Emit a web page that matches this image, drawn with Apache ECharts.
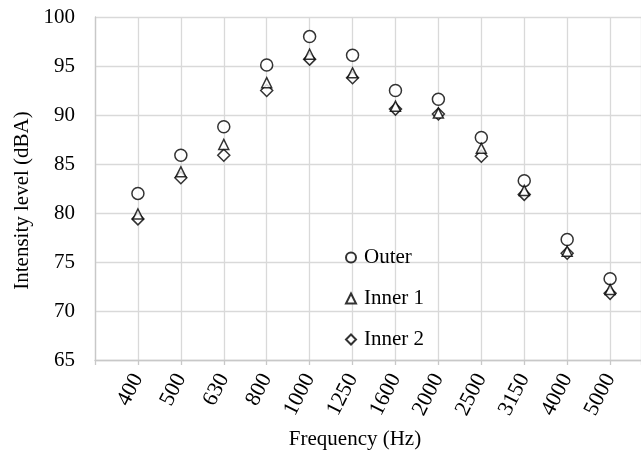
<!DOCTYPE html>
<html>
<head>
<meta charset="utf-8">
<script src="https://cdn.jsdelivr.net/npm/echarts@6/dist/echarts.min.js"></script>
<style>
  html, body { margin: 0; padding: 0; background: #fff; }
  #chart { width: 641px; height: 452px; }
</style>
</head>
<body>
<div id="chart"></div>
<script>
const categories = ['400', '500', '630', '800', '1000', '1250', '1600', '2000', '2500', '3150', '4000', '5000'];
const outer  = [82.0, 85.9, 88.8, 95.1, 98.0, 96.1, 92.5, 91.6, 87.7, 83.3, 77.3, 73.3];
const inner1 = [79.9, 84.2, 87.0, 93.3, 96.2, 94.3, 90.9, 90.2, 86.6, 82.3, 76.1, 72.2];
const inner2 = [79.4, 83.6, 85.9, 92.5, 95.7, 93.8, 90.6, 90.1, 85.8, 81.9, 75.9, 71.8];
const yTicks = [65, 70, 75, 80, 85, 90, 95, 100];

const FONT = '"Liberation Serif", "Times New Roman", serif';
const toPoints = arr => arr.map((v, i) => [i + 1, v]);

const chart = echarts.init(document.getElementById('chart'), null, { renderer: 'canvas' });
const markerStyle = { color: '#ffffff', borderColor: '#000000', borderWidth: 1.5 };

chart.setOption({
  animation: false,
  backgroundColor: '#ffffff',
  textStyle: { fontFamily: FONT, color: '#000' },
  grid: { left: 95, right: 0, top: 17, bottom: 92, containLabel: false, outerBoundsMode: 'none' },
  legend: {
    orient: 'vertical',
    left: 340,
    top: 242,
    itemGap: 20,
    itemWidth: 10,
    itemHeight: 10,
    textStyle: { fontFamily: FONT, fontSize: 21, color: '#000', padding: [0, 0, 0, 3] },
    data: ['Outer', 'Inner 1', 'Inner 2']
  },
  xAxis: {
    type: 'value',
    min: 0,
    max: 12.72,
    interval: 1,
    name: 'Frequency (Hz)',
    nameLocation: 'middle',
    nameGap: 69,
    nameTextStyle: { fontFamily: FONT, fontSize: 21, color: '#000', padding: [0, 26, 0, 0] },
    axisLine: { show: true, lineStyle: { color: '#c8c8c8', width: 1.3 } },
    axisTick: { show: true, length: 5, lineStyle: { color: '#c8c8c8', width: 1.3 } },
    splitLine: { show: true, lineStyle: { color: '#d9d9d9', width: 1.3 } },
    axisLabel: {
      rotate: 63,
      margin: 15,
      fontFamily: FONT,
      fontSize: 22,
      color: '#000',
      formatter: v => (Number.isInteger(v) ? (categories[v - 1] || '') : '')
    }
  },
  yAxis: {
    type: 'value',
    min: yTicks[0],
    max: yTicks[yTicks.length - 1],
    interval: 5,
    name: 'Intensity level (dBA)',
    nameLocation: 'middle',
    nameGap: 62,
    nameTextStyle: { fontFamily: FONT, fontSize: 21, color: '#000', padding: [0, 24, 0, 0] },
    axisLine: { show: true, lineStyle: { color: '#c8c8c8', width: 1.3 } },
    axisTick: { show: false },
    splitLine: { show: true, lineStyle: { color: '#d9d9d9', width: 1.3 } },
    axisLabel: { margin: 20, fontFamily: FONT, fontSize: 21, color: '#000' }
  },
  series: [
    { name: 'Outer', type: 'scatter', symbol: 'circle', symbolSize: 12, itemStyle: markerStyle, data: toPoints(outer), z: 3 },
    { name: 'Inner 1', type: 'scatter', symbol: 'triangle', symbolSize: 10, itemStyle: markerStyle, data: toPoints(inner1), z: 4 },
    { name: 'Inner 2', type: 'scatter', symbol: 'diamond', symbolSize: 12, itemStyle: markerStyle, data: toPoints(inner2), z: 2 }
  ]
});
</script>
</body>
</html>
